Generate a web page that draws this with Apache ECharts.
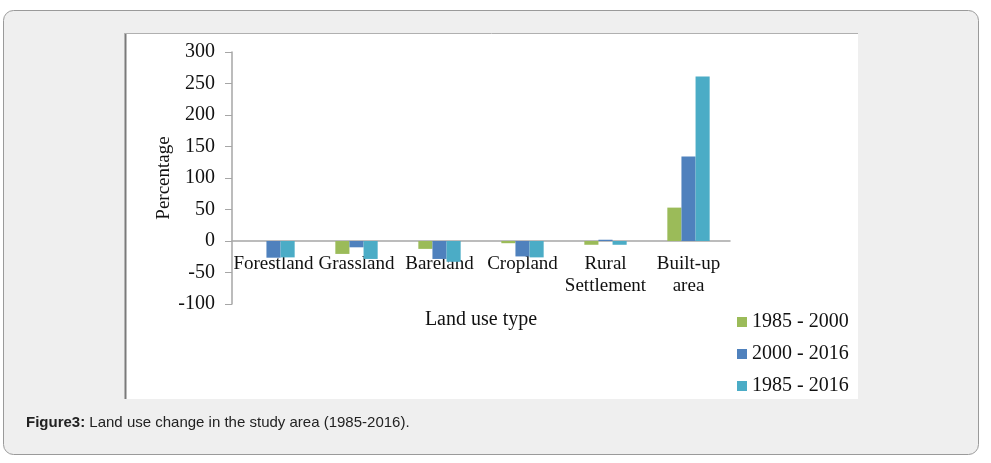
<!DOCTYPE html>
<html>
<head>
<meta charset="utf-8">
<script src="https://cdn.jsdelivr.net/npm/echarts@6/dist/echarts.min.js"></script>
<style>
html,body{margin:0;padding:0;background:#fff;}
#c{width:991px;height:463px;}
</style>
</head>
<body>
<div id="c"></div>
<script>
const categories = ['Forestland', 'Grassland', 'Bareland', 'Cropland', 'Rural\nSettlement', 'Built-up\narea'];
const seriesNames = ['1985 - 2000', '2000 - 2016', '1985 - 2016'];
const s1985_2000 = [0, -20.5, -12.5, -3.5, -6, 53];
const s2000_2016 = [-26.5, -10, -28.5, -24.5, 2, 134];
const s1985_2016 = [-26, -28.5, -33, -26, -6, 261];
const yTicks = { min: -100, max: 300, interval: 50 };
const colors = ['#9bbb59', '#4f81bd', '#4bacc6'];

const serif = '"Liberation Serif", "Times New Roman", serif';
const chart = echarts.init(document.getElementById('c'));
const data = [s1985_2000, s2000_2016, s1985_2016];

chart.setOption({
  animation: false,
  graphic: [
    { type: 'rect', z: -10, shape: { x: 3.5, y: 10.5, width: 975, height: 444, r: 10 },
      style: { fill: '#efefef', stroke: '#9a9a9a', lineWidth: 1 } },
    { type: 'rect', z: -9, shape: { x: 125, y: 33, width: 733, height: 366 },
      style: { fill: '#ffffff' } },
    { type: 'line', z: -8, shape: { x1: 125.5, y1: 33, x2: 125.5, y2: 399 },
      style: { stroke: '#7a7a7a', lineWidth: 2 } },
    { type: 'line', z: -8, shape: { x1: 125, y1: 33.5, x2: 858, y2: 33.5 },
      style: { stroke: '#b0b0b0', lineWidth: 1 } },
    { type: 'text', left: 26, top: 415,
      style: {
        text: '{b|Figure3:} Land use change in the study area (1985-2016).',
        font: '15px "Liberation Sans", Arial, sans-serif', fill: '#222',
        rich: { b: { fontWeight: 'bold', fontSize: 15, fontFamily: '"Liberation Sans", Arial, sans-serif', fill: '#222' } }
      } }
  ],
  grid: { left: 232, right: 261, top: 52, bottom: 159 },
  legend: {
    orient: 'vertical', left: 732, top: 307, itemGap: 12,
    itemWidth: 10, itemHeight: 10, icon: 'rect',
    textStyle: { fontFamily: serif, fontSize: 20, color: '#111' },
    data: seriesNames
  },
  xAxis: {
    type: 'category', data: categories,
    offset: -63,
    name: 'Land use type', nameLocation: 'middle', nameGap: 69, nameMoveOverlap: false,
    nameTextStyle: { fontFamily: serif, fontSize: 20, color: '#111' },
    axisLine: { onZero: false, lineStyle: { color: '#a6a6a6', width: 1.5 } },
    axisTick: { show: false },
    axisLabel: { interval: 0, margin: 12, fontFamily: serif, fontSize: 19, color: '#111', lineHeight: 22 },
    splitLine: { show: false }
  },
  yAxis: {
    type: 'value', min: yTicks.min, max: yTicks.max, interval: yTicks.interval,
    name: 'Percentage', nameLocation: 'middle', nameGap: 58, nameRotate: 90, nameMoveOverlap: false,
    nameTextStyle: { fontFamily: serif, fontSize: 19, color: '#111' },
    axisLine: { show: true, lineStyle: { color: '#a6a6a6', width: 1.5 } },
    axisTick: { show: true, length: 7, lineStyle: { color: '#a6a6a6' } },
    axisLabel: { margin: 17, fontFamily: serif, fontSize: 20, color: '#111' },
    splitLine: { show: false }
  },
  series: seriesNames.map((n, i) => ({
    name: n, type: 'bar', data: data[i], barGap: '0%', barCategoryGap: '49%',
    itemStyle: { color: colors[i] }
  }))
});
</script>
</body>
</html>
